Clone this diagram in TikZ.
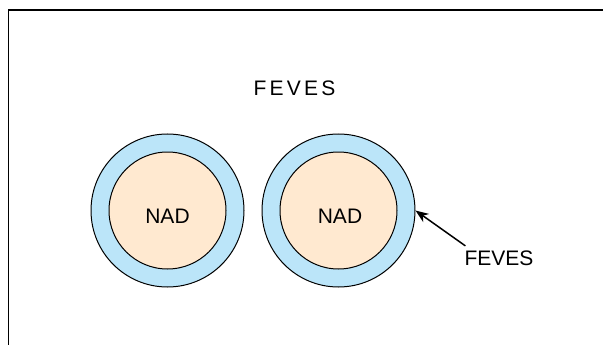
\documentclass[tikz,border=0pt]{standalone}
\usepackage{fontspec}
\setmainfont{Liberation Sans}
\usetikzlibrary{arrows.meta}
\definecolor{shellblue}{HTML}{BBE5F9}
\definecolor{corepeach}{HTML}{FFE9D0}
\tikzset{
  shell/.style={circle, draw=black, line width=1pt, fill=shellblue, minimum size=153pt, inner sep=0pt},
  core/.style={circle, draw=black, line width=1pt, fill=corepeach, minimum size=117pt, inner sep=0pt},
  lbl/.style={font=\fontsize{21pt}{25pt}\selectfont, inner sep=0pt, text=black},
  pointer/.style={-{Stealth[length=13pt,width=10pt,inset=4pt]}, line width=1.5pt}
}
\begin{document}
\begin{tikzpicture}[x=1pt,y=-1pt]
  \useasboundingbox (0,0) rectangle (603,345);
  % frame edges
  \draw[line width=1.5pt] (8.5,345) -- (8.5,10) -- (603,10);
  % title
  \node[lbl] (title) at (294.5,88) {F\kern3.2pt E\kern3.2pt V\kern3.2pt E\kern3.2pt S};
  % left particle
  \node[shell] (o1) at (167.5,210.5) {};
  \node[core] (i1) at (167.5,210.5) {};
  \node[lbl] (t1) at (167.5,216) {NAD};
  % right particle
  \node[shell] (o2) at (338.5,210.5) {};
  \node[core] (i2) at (338.5,210.5) {};
  \node[lbl] (t2) at (340,216) {NAD};
  % outer layer label
  \node[lbl] (side) at (499,258.5) {FEVES};
  \draw[pointer] ([xshift=1pt,yshift=5pt]side.north west) -- (o2.east);
\end{tikzpicture}
\end{document}
